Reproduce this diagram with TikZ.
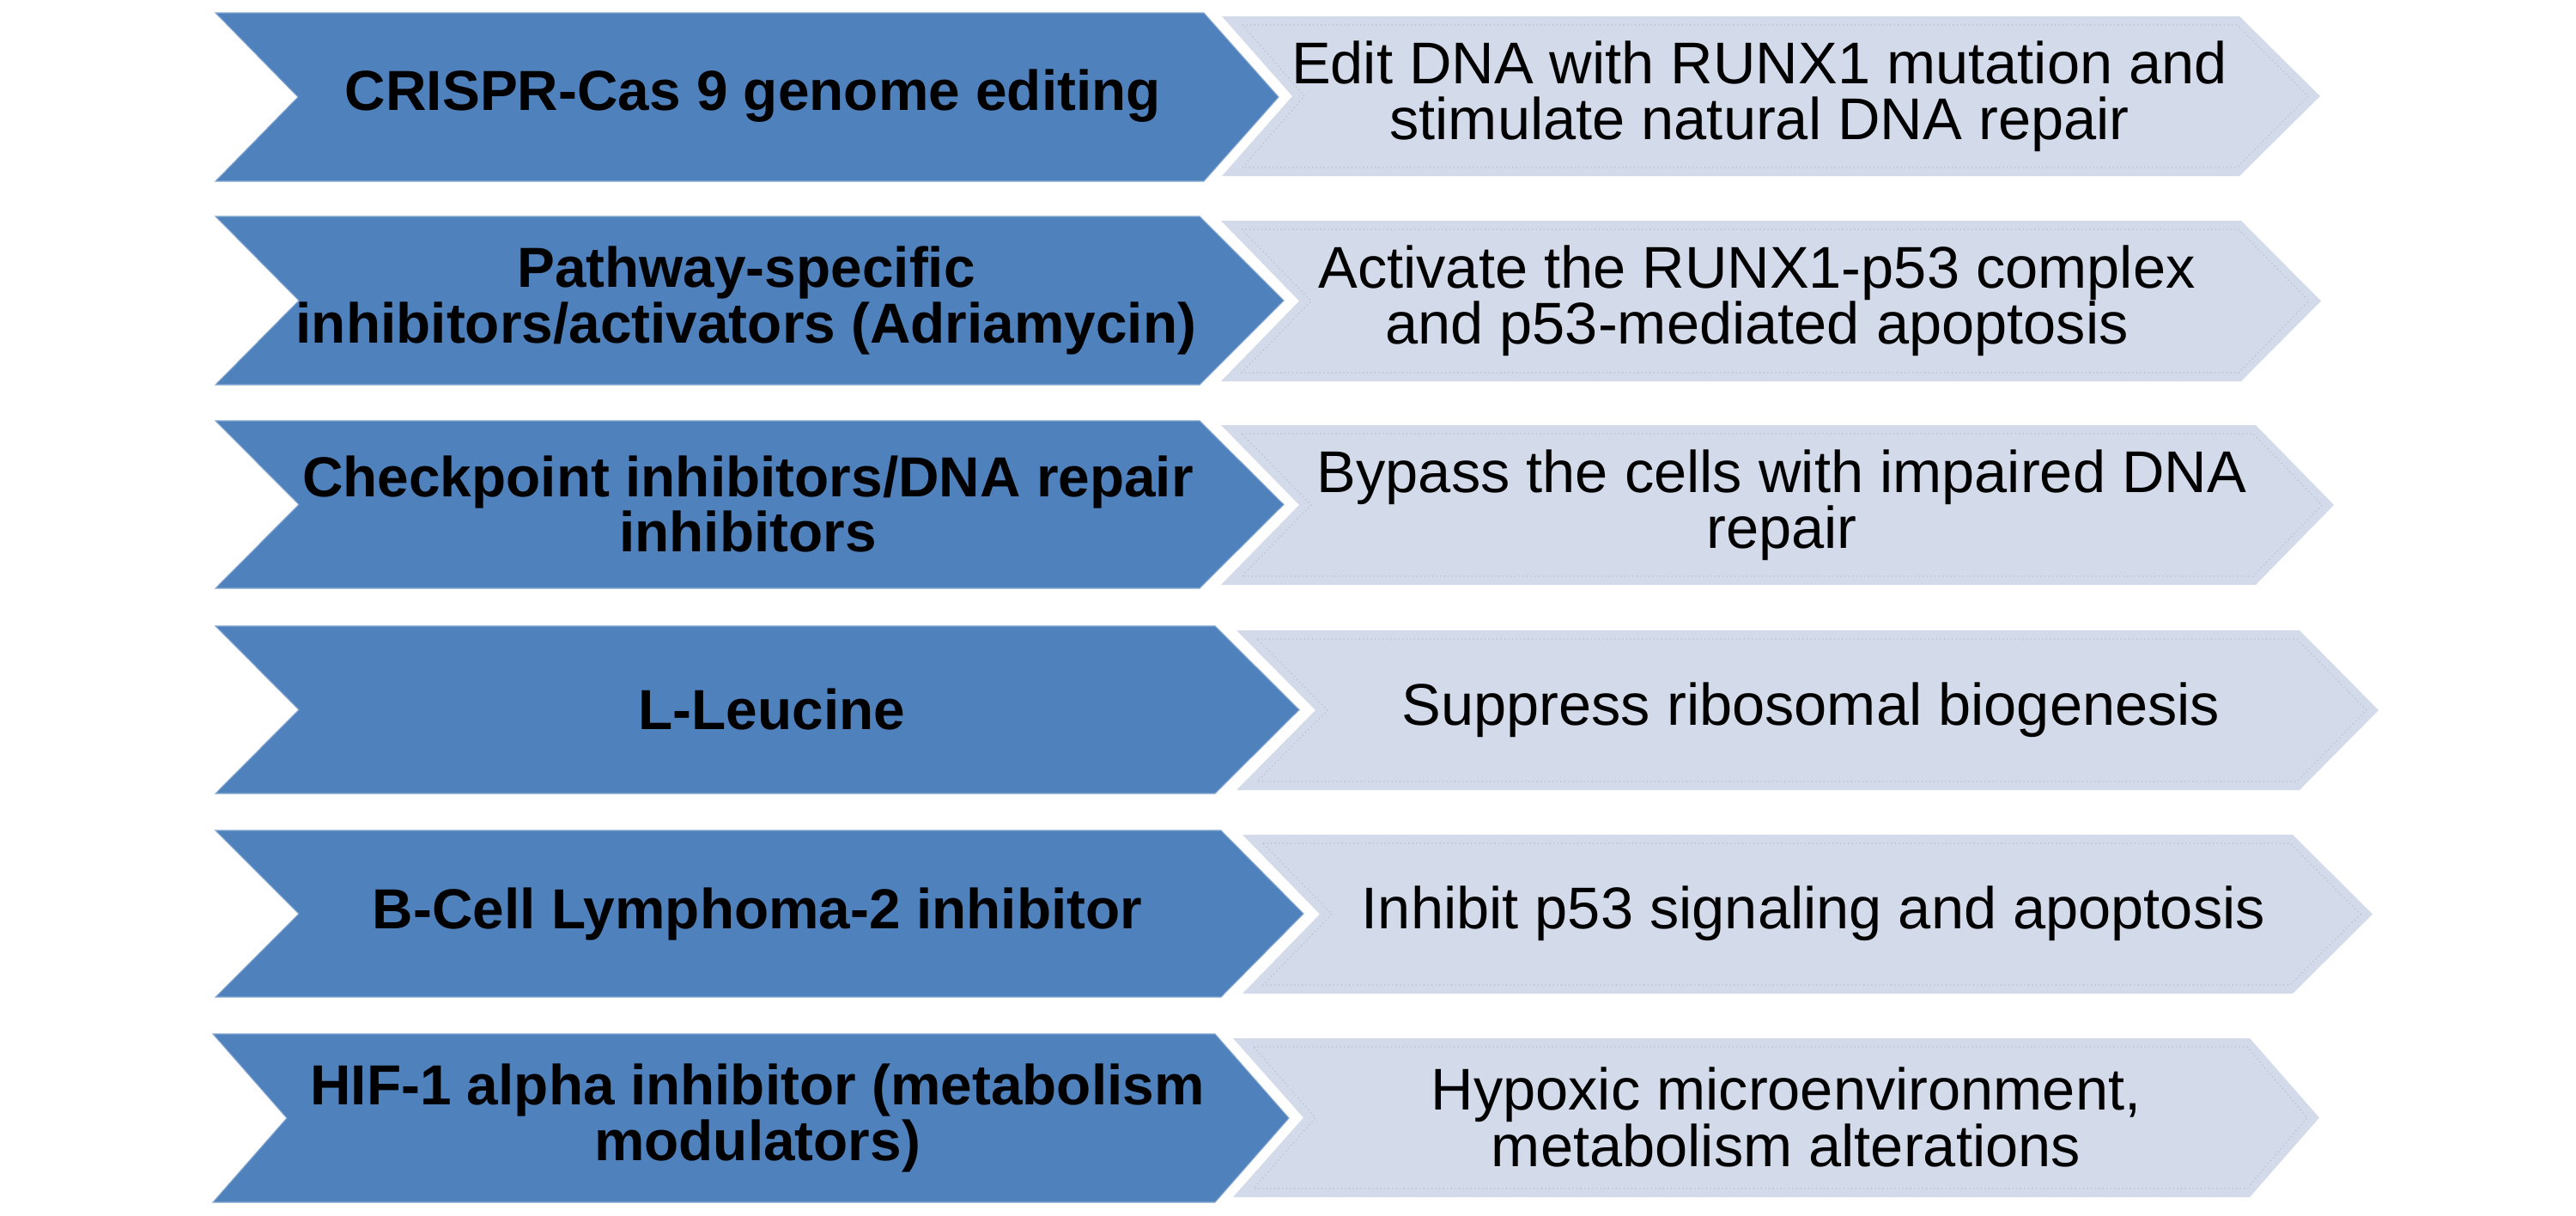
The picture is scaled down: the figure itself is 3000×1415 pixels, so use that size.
\documentclass[tikz,border=0pt]{standalone}
\usepackage{fontspec}
\setmainfont{Liberation Sans}

\definecolor{chevdark}{HTML}{4F81BD}
\definecolor{chevlight}{HTML}{D3DAE9}
\definecolor{chevdots}{HTML}{AEBAD2}

\tikzset{
    leftlabel/.style={align=center, font=\fontsize{18.7}{18.3}\selectfont\bfseries, text=black},
    rightlabel/.style={align=center, font=\fontsize{19.5}{18.6}\selectfont, text=black}
}

\begin{document}
\begin{tikzpicture}[x=0.01cm, y=-0.01cm]
            \useasboundingbox (0,0) rectangle (3000,1415);

            % dark chevrons: top/bottom/left/notch/flat end/tip
            \foreach \yt/\yb/\xl/\xn/\xf/\xp in {15/211/251/347/1402/1489, 252/448/251/348/1397/1495,
                    490/685/251/348/1397/1495, 729/924/251/348/1415/1513,
                    967/1161/251/348/1422/1518, 1204/1400/248/334/1415/1501}
                \filldraw[fill=chevdark, draw=chevdark!70!white, line width=0.3pt]
                    (\xl,\yt) -- (\xf,\yt) -- (\xp,{(\yt+\yb)/2}) -- (\xf,\yb) -- (\xl,\yb)
                    -- (\xn,{(\yt+\yb)/2}) -- cycle;

            % light chevrons with their dotted inner line
            \foreach \yt/\yb/\xl/\xn/\xf/\xp in {19/205/1423/1505/2608/2702, 257/444/1422/1513/2610/2703,
                    495/681/1422/1513/2627/2718, 734/920/1440/1532/2678/2770,
                    972/1157/1447/1537/2670/2763, 1209/1394/1436/1518/2620/2701} {
                \fill[chevlight]
                    (\xl,\yt) -- (\xf,\yt) -- (\xp,{(\yt+\yb)/2}) -- (\xf,\yb) -- (\xl,\yb)
                    -- (\xn,{(\yt+\yb)/2}) -- cycle;
                \draw[chevdots, densely dotted, line width=0.3pt]
                    (\xl+24,\yt+10) -- (\xf-3,\yt+10) -- (\xp-14,{(\yt+\yb)/2}) -- (\xf-3,\yb-10)
                    -- (\xl+24,\yb-10) -- (\xn+14,{(\yt+\yb)/2}) -- cycle;
            }

            \node (crispr) at (877,112) [leftlabel] {CRISPR-Cas 9 genome editing};
            \node (pathway) at (869,350) [leftlabel] {Pathway-specific\\inhibitors/activators (Adriamycin)};
            \node (checkpoint) at (871,587) [leftlabel] {Checkpoint inhibitors/DNA repair\\inhibitors};
            \node (leucine) at (899,826) [leftlabel] {L-Leucine};
            \node (bcl) at (882,1064) [leftlabel] {B-Cell Lymphoma-2 inhibitor};
            \node (hif) at (882,1302) [leftlabel] {HIF-1 alpha inhibitor (metabolism\\modulators)};

            \node (edit) at (2049,112) [rightlabel] {Edit DNA with RUNX1 mutation and\\stimulate natural DNA repair};
            \node (activate) at (2046,350) [rightlabel] {Activate the RUNX1-p53 complex\\and p53-mediated apoptosis};
            \node (bypass) at (2075,588) [rightlabel] {Bypass the cells with impaired DNA\\repair};
            \node (suppress) at (2109,827) [rightlabel] {Suppress ribosomal biogenesis};
            \node (inhibit) at (2112,1064) [rightlabel] {Inhibit p53 signaling and apoptosis};
            \node (hypoxic) at (2080,1301) [rightlabel] {Hypoxic microenvironment,\\metabolism alterations};

        \end{tikzpicture}
\end{document}
